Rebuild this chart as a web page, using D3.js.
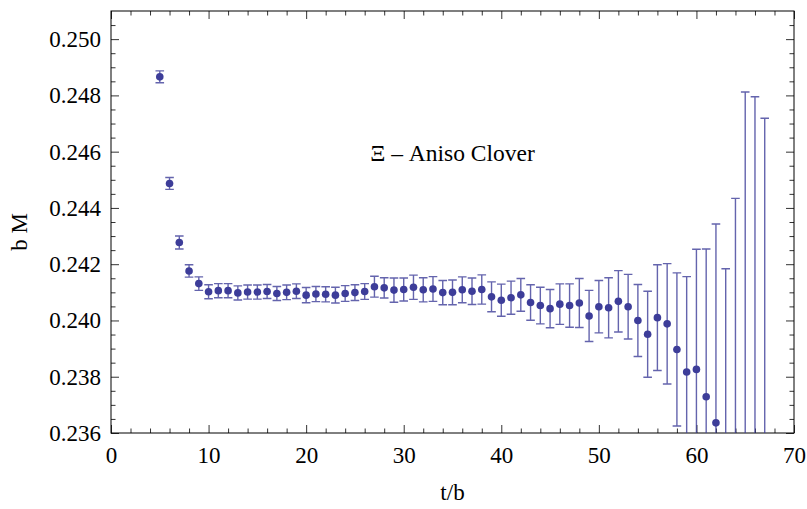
<!DOCTYPE html>
<html>
<head>
<meta charset="utf-8">
<script src="https://cdn.jsdelivr.net/npm/d3@7"></script>
<style>
  body { margin: 0; background: #fff; }
  svg text { font-family: "Liberation Serif", "Times New Roman", serif; fill: #000; }
</style>
</head>
<body>
<div id="chart"></div>
<script>
// time slices t/b
const tValues = d3.range(5, 68);

// effective mass b M (t = 63..67 lie below the frame)
const massValues = [
  0.24866, 0.24487, 0.24277, 0.24176, 0.24131,
  0.24102, 0.24106, 0.24106, 0.24098, 0.24101, 0.24101, 0.24103, 0.24096, 0.24100, 0.24104,
  0.24090, 0.24094, 0.24093, 0.24090, 0.24096, 0.24099, 0.24103, 0.24120, 0.24116, 0.24108,
  0.24110, 0.24118, 0.24109, 0.24112, 0.24099, 0.24100, 0.24109, 0.24104, 0.24110, 0.24084,
  0.24072, 0.24081, 0.24091, 0.24064, 0.24053, 0.24042, 0.24058, 0.24053, 0.24062, 0.24016,
  0.24049, 0.24045, 0.24068, 0.24049, 0.24000, 0.23951, 0.24010, 0.23988, 0.23897, 0.23817,
  0.23826, 0.23729, 0.23636, 0.23500, 0.23400, 0.23450, 0.23400, 0.23300
];

// statistical errors
const errValues = [
  0.00021, 0.00021, 0.00023, 0.00022, 0.00024,
  0.00025, 0.00025, 0.00025, 0.00025, 0.00025, 0.00025, 0.00025, 0.00025, 0.00026, 0.00026,
  0.00027, 0.00027, 0.00027, 0.00028, 0.00028, 0.00028, 0.00028, 0.00037, 0.00036, 0.00043,
  0.00041, 0.00043, 0.00043, 0.00044, 0.00043, 0.00044, 0.00046, 0.00047, 0.00052, 0.00053,
  0.00057, 0.00059, 0.00058, 0.00063, 0.00065, 0.00068, 0.00072, 0.00077, 0.00087, 0.00091,
  0.00093, 0.00107, 0.00109, 0.00115, 0.00128, 0.00153, 0.00188, 0.00214, 0.00272, 0.00339,
  0.00427, 0.00525, 0.00707, 0.00684, 0.01034, 0.01362, 0.01395, 0.01419
];

const xTicks = d3.range(0, 71, 10);
const yTicks = [0.236, 0.238, 0.240, 0.242, 0.244, 0.246, 0.248, 0.250];

const data = tValues.map((t, i) => ({t: t, m: massValues[i], e: errValues[i]}));

const width = 807, height = 509;
const margin = {top: 11, right: 13, bottom: 76, left: 111};
const color = "#3d3d99";
const serif = "'Liberation Serif', 'Times New Roman', serif";

const svg = d3.select("#chart").append("svg")
  .attr("width", width)
  .attr("height", height);

const x = d3.scaleLinear()
  .domain([0, 70])
  .range([margin.left, width - margin.right]);

const y = d3.scaleLinear()
  .domain([0.236, 0.251])
  .range([height - margin.bottom, margin.top]);

svg.append("defs").append("clipPath")
  .attr("id", "plot-clip")
  .append("rect")
  .attr("x", x(0))
  .attr("y", y(0.251))
  .attr("width", x(70) - x(0))
  .attr("height", y(0.236) - y(0.251));

const xMinor = d3.range(0, 71, 2).filter(d => d % 10 !== 0);
const yMinor = d3.range(0, 31).map(i => 0.236 + i * 0.0005)
  .filter(d => !yTicks.some(v => Math.abs(v - d) < 1e-9) && d < 0.2509);

const styleAxis = g => {
  g.attr("font-family", serif);
  g.select(".domain").remove();
  g.selectAll(".tick line").attr("stroke", "#333").attr("stroke-width", 1);
  g.selectAll(".tick text").style("font-size", "23px");
};

// bottom
svg.append("g")
  .attr("transform", "translate(0," + y(0.236) + ")")
  .call(d3.axisBottom(x).tickValues(xTicks).tickSize(-8).tickPadding(14).tickFormat(d3.format("d")))
  .call(styleAxis);
svg.append("g")
  .attr("transform", "translate(0," + y(0.236) + ")")
  .call(d3.axisBottom(x).tickValues(xMinor).tickSize(-4.5).tickFormat(""))
  .call(styleAxis);

// top
svg.append("g")
  .attr("transform", "translate(0," + y(0.251) + ")")
  .call(d3.axisTop(x).tickValues(xTicks).tickSize(-8).tickFormat(""))
  .call(styleAxis);
svg.append("g")
  .attr("transform", "translate(0," + y(0.251) + ")")
  .call(d3.axisTop(x).tickValues(xMinor).tickSize(-4.5).tickFormat(""))
  .call(styleAxis);

// left
svg.append("g")
  .attr("transform", "translate(" + x(0) + ",0)")
  .call(d3.axisLeft(y).tickValues(yTicks).tickSize(-8).tickPadding(10).tickFormat(d3.format(".3f")))
  .call(styleAxis);
svg.append("g")
  .attr("transform", "translate(" + x(0) + ",0)")
  .call(d3.axisLeft(y).tickValues(yMinor).tickSize(-4.5).tickFormat(""))
  .call(styleAxis);

// right
svg.append("g")
  .attr("transform", "translate(" + x(70) + ",0)")
  .call(d3.axisRight(y).tickValues(yTicks).tickSize(-8).tickFormat(""))
  .call(styleAxis);
svg.append("g")
  .attr("transform", "translate(" + x(70) + ",0)")
  .call(d3.axisRight(y).tickValues(yMinor).tickSize(-4.5).tickFormat(""))
  .call(styleAxis);

// frame
svg.append("rect")
  .attr("x", x(0))
  .attr("y", y(0.251))
  .attr("width", x(70) - x(0))
  .attr("height", y(0.236) - y(0.251))
  .attr("fill", "none")
  .attr("stroke", "#000")
  .attr("stroke-width", 1);

// error bars
const bars = svg.append("g")
  .attr("class", "errors")
  .attr("clip-path", "url(#plot-clip)")
  .attr("stroke", color)
  .attr("stroke-opacity", 0.8)
  .attr("stroke-width", 1.4)
  .attr("fill", "none");

const capW = 4.3;
bars.selectAll("path")
  .data(data)
  .enter().append("path")
  .attr("d", d => {
    const cx = x(d.t), hi = y(d.m + d.e), lo = y(d.m - d.e);
    return "M" + (cx - capW) + "," + hi + "H" + (cx + capW) +
      "M" + cx + "," + hi + "V" + lo +
      "M" + (cx - capW) + "," + lo + "H" + (cx + capW);
  });

// points
svg.append("g")
  .attr("class", "points")
  .attr("clip-path", "url(#plot-clip)")
  .selectAll("circle")
  .data(data)
  .enter().append("circle")
  .attr("cx", d => x(d.t))
  .attr("cy", d => y(d.m))
  .attr("r", 3.8)
  .attr("fill", color);

// labels
svg.append("text")
  .attr("x", (x(0) + x(70)) / 2)
  .attr("y", 500)
  .attr("text-anchor", "middle")
  .style("font-size", "23px")
  .text("t/b");

svg.append("text")
  .attr("transform", "translate(27,232) rotate(-90)")
  .attr("text-anchor", "middle")
  .style("font-size", "23px")
  .text("b M");

svg.append("text")
  .attr("x", 452.5)
  .attr("y", 161)
  .attr("text-anchor", "middle")
  .style("font-size", "23.5px")
  .text("\u039E \u2013 Aniso Clover");
</script>
</body>
</html>
